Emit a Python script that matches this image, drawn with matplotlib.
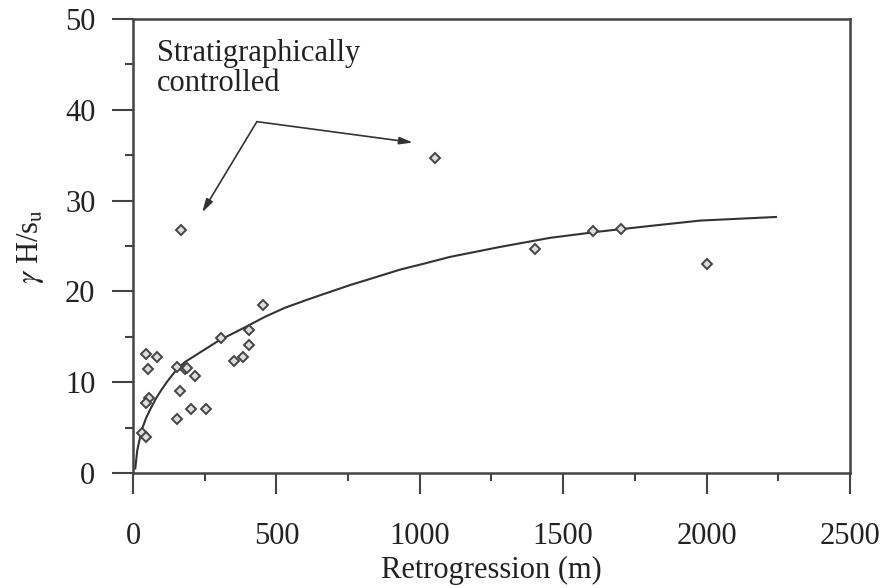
import matplotlib
matplotlib.use("Agg")
import matplotlib.pyplot as plt
from matplotlib.ticker import MultipleLocator

plt.rcParams['font.family'] = ['Liberation Serif', 'DejaVu Serif']
plt.rcParams['mathtext.fontset'] = 'stix'

# measured points
retro = [44, 83, 51, 56, 44, 30, 44, 152, 181, 190, 216, 164, 152, 201, 253,
         306, 404, 406, 353, 385, 454, 167, 1053, 1402, 1603, 1700, 2000]
ratio = [13.1, 12.8, 11.4, 8.3, 7.7, 4.4, 4.0, 11.7, 11.4, 11.6, 10.7, 9.0, 6.0, 7.1, 7.1,
         14.9, 15.7, 14.1, 12.3, 12.8, 18.5, 26.8, 34.7, 24.7, 26.6, 26.9, 23.0]

# trend line
fit_x = [8, 15, 30, 45, 60, 80, 100, 120, 150, 180, 220, 250, 300, 350, 400, 460, 530,
         600, 664, 757, 850, 931, 1020, 1105, 1280, 1454, 1628, 1800, 1977, 2242]
fit_y = [0.5, 2.5, 4.7, 6.0, 7.0, 8.2, 9.2, 10.1, 11.3, 12.2, 13.0, 13.6, 14.6, 15.4,
         16.2, 17.2, 18.2, 19.0, 19.7, 20.7, 21.6, 22.4, 23.1, 23.8, 24.9, 25.9, 26.6,
         27.2, 27.8, 28.2]

fig = plt.figure(figsize=(8.83, 5.88), dpi=100)
ax = fig.add_axes([0.1506, 0.1956, 0.812, 0.772])

ax.plot(fit_x, fit_y, "-", color="#333333", lw=1.5)
ax.plot(retro, ratio, "D", ms=5.5, mfc="#dddddd", mec="#444444", mew=1.4, ls="none")

ax.set_xlim(0, 2500)
ax.set_ylim(0, 50)
ax.xaxis.set_major_locator(MultipleLocator(500))
ax.xaxis.set_minor_locator(MultipleLocator(250))
ax.yaxis.set_major_locator(MultipleLocator(10))
ax.yaxis.set_minor_locator(MultipleLocator(5))
ax.tick_params(which="major", direction="out", length=15, width=1.5, color="#444444",
               labelsize=22, labelcolor="#222222")
ax.tick_params(which="minor", direction="out", length=6, width=1.5, color="#444444")
ax.tick_params(axis="x", which="major", pad=20)
ax.tick_params(axis="y", which="major", pad=12)
for s in ax.spines.values():
    s.set_linewidth(1.8)
    s.set_color("#444444")

ax.set_xlabel("Retrogression (m)", fontsize=22, color="#222222", labelpad=4)
ax.set_ylabel(r"$\gamma$ H/s$_{\rm u}$", fontsize=22, color="#222222", labelpad=14)

ax.text(85, 47.8, "Stratigraphically\ncontrolled", fontsize=22, color="#222222",
        va="top", ha="left", linespacing=1.05)
arrow = dict(arrowstyle="-|>,head_length=0.8,head_width=0.22", color="#333333",
             lw=1.2, shrinkA=0, shrinkB=0)
ax.annotate("", xy=(976, 36.4), xytext=(432, 38.7), arrowprops=arrow)
ax.annotate("", xy=(241, 28.7), xytext=(432, 38.7), arrowprops=arrow)

fig.savefig("out.png", dpi=100)
